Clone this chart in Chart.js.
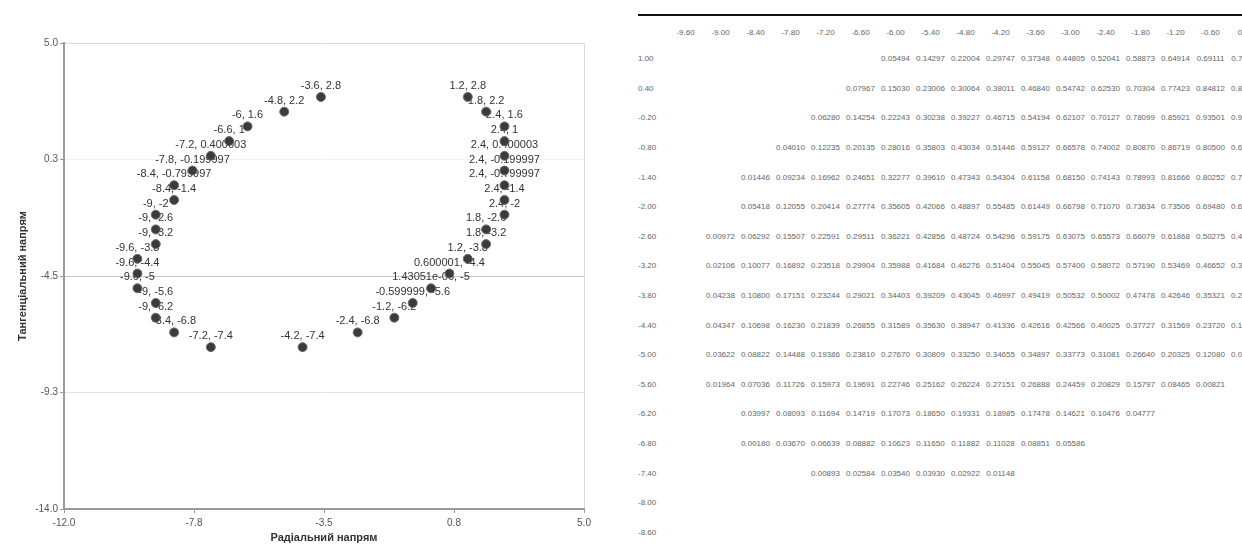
<!DOCTYPE html>
<html>
<head>
<meta charset="utf-8">
<script src="https://cdn.jsdelivr.net/npm/chart.js@4.4.0/dist/chart.umd.min.js"></script>
<style>
body{margin:0;background:#fff;width:1242px;height:551px;overflow:hidden;position:relative;font-family:"Liberation Sans",Arial,sans-serif}
#chartBox{position:absolute;left:0;top:0;width:620px;height:551px}
#tableBox{position:absolute;left:632px;top:0;width:610px;height:551px;overflow:hidden}
#tableBox .rule{position:absolute;left:6px;top:14px;width:700px;height:2px;background:#111}
#grid{position:absolute;left:0;top:20px;width:631px;border-collapse:collapse;table-layout:fixed;font-size:8px;color:#666}
#grid td,#grid th{padding:0;text-align:center;white-space:nowrap;font-weight:normal;overflow:visible}
#grid th{height:24px}
#grid td{height:29.6px}
#grid .rl{text-align:left;padding-left:6px}
</style>
</head>
<body>
<div id="chartBox"><canvas id="myChart" width="620" height="551"></canvas></div>
<div id="tableBox"><div class="rule"></div><table id="grid"></table></div>
<script>
// scatter points (radial, tangential)
var xVals = [-3.6, -4.8, -6, -6.6, -7.2, -7.8, -8.4, -8.4, -9, -9, -9, -9.6, -9.6, -9.6, -9, -9, -8.4, -7.2,
             -4.2, -2.4, -1.2, -0.599999, 1.43051e-06, 0.600001, 1.2, 1.8, 1.8, 2.4, 2.4, 2.4, 2.4, 2.4, 2.4, 2.4, 1.8, 1.2];
var yVals = [2.8, 2.2, 1.6, 1, 0.400003, -0.199997, -0.799997, -1.4, -2, -2.6, -3.2, -3.8, -4.4, -5, -5.6, -6.2, -6.8, -7.4,
             -7.4, -6.8, -6.2, -5.6, -5, -4.4, -3.8, -3.2, -2.6, -2, -1.4, -0.799997, -0.199997, 0.400003, 1, 1.6, 2.2, 2.8];
var xTicks = [-12, -7.75, -3.5, 0.75, 5];
var yTicks = [-14, -9.25, -4.5, 0.25, 5];

// table on the right
var colLabels = ['-9.60','-9.00','-8.40','-7.80','-7.20','-6.60','-6.00','-5.40','-4.80','-4.20','-3.60','-3.00','-2.40','-1.80','-1.20','-0.60','0.00'];
var rowLabels = ['1.00','0.40','-0.20','-0.80','-1.40','-2.00','-2.60','-3.20','-3.80','-4.40','-5.00','-5.60','-6.20','-6.80','-7.40','-8.00','-8.60'];
var tableRows = [
  ['','','','','','','0.05494','0.14297','0.22004','0.29747','0.37348','0.44805','0.52041','0.58873','0.64914','0.69111','0.71180'],
  ['','','','','','0.07967','0.15030','0.23006','0.30064','0.38011','0.46840','0.54742','0.62530','0.70304','0.77423','0.84812','0.89630'],
  ['','','','','0.06280','0.14254','0.22243','0.30238','0.39227','0.46715','0.54194','0.62107','0.70127','0.78099','0.85921','0.93501','0.98770'],
  ['','','','0.04010','0.12235','0.20135','0.28016','0.35803','0.43034','0.51446','0.59127','0.66578','0.74002','0.80870','0.86719','0.80500','0.68140'],
  ['','','0.01446','0.09234','0.16962','0.24651','0.32277','0.39610','0.47343','0.54304','0.61158','0.68150','0.74143','0.78993','0.81666','0.80252','0.72410'],
  ['','','0.05418','0.12055','0.20414','0.27774','0.35605','0.42066','0.48897','0.55485','0.61449','0.66798','0.71070','0.73634','0.73506','0.69480','0.61870'],
  ['','0.00972','0.06292','0.15507','0.22591','0.29511','0.36221','0.42856','0.48724','0.54296','0.59175','0.63075','0.65573','0.66079','0.61868','0.50275','0.44790'],
  ['','0.02106','0.10077','0.16892','0.23518','0.29904','0.35988','0.41684','0.46276','0.51404','0.55045','0.57400','0.58072','0.57190','0.53469','0.46652','0.36840'],
  ['','0.04238','0.10800','0.17151','0.23244','0.29021','0.34403','0.39209','0.43045','0.46997','0.49419','0.50532','0.50002','0.47478','0.42646','0.35321','0.24570'],
  ['','0.04347','0.10698','0.16230','0.21839','0.26855','0.31589','0.35630','0.38947','0.41336','0.42616','0.42566','0.40025','0.37727','0.31569','0.23720','0.13540'],
  ['','0.03622','0.08822','0.14488','0.19386','0.23810','0.27670','0.30809','0.33250','0.34655','0.34897','0.33773','0.31081','0.26640','0.20325','0.12080','0.01520'],
  ['','0.01964','0.07036','0.11726','0.15973','0.19691','0.22746','0.25162','0.26224','0.27151','0.26888','0.24459','0.20829','0.15797','0.08465','0.00821',''],
  ['','','0.03997','0.08093','0.11694','0.14719','0.17073','0.18650','0.19331','0.18985','0.17478','0.14621','0.10476','0.04777','','',''],
  ['','','0.00180','0.03670','0.06639','0.08882','0.10623','0.11650','0.11882','0.11028','0.08851','0.05586','','','','',''],
  ['','','','','0.00893','0.02584','0.03540','0.03930','0.02922','0.01148','','','','','','',''],
  ['','','','','','','','','','','','','','','','',''],
  ['','','','','','','','','','','','','','','','','']
];

// build the table
var html = '<colgroup><col style="width:36px">';
for (var c = 0; c < colLabels.length; c++) html += '<col style="width:35px">';
html += '</colgroup><tr><th></th>';
colLabels.forEach(function(l){ html += '<th>' + l + '</th>'; });
html += '</tr>';
rowLabels.forEach(function(r, i){
    html += '<tr><td class="rl">' + r + '</td>';
    tableRows[i].forEach(function(v){ html += '<td>' + v + '</td>'; });
    html += '</tr>';
});
document.getElementById('grid').innerHTML = html;

// label text like "1.43051e-06"
function fmt(v) {
    if (v !== 0 && Math.abs(v) < 1e-4) {
        return v.toExponential(5).replace(/e([+-])(\d)$/, 'e$10$2');
    }
    return String(v);
}

// draw "x, y" above every point, under the markers
var pointLabels = {
    id: 'pointLabels',
    beforeDatasetsDraw: function(chart) {
        var c = chart.ctx;
        var meta = chart.getDatasetMeta(0);
        c.save();
        c.font = '11px "Liberation Sans"';
        c.fillStyle = '#333';
        c.textAlign = 'center';
        c.textBaseline = 'middle';
        meta.data.forEach(function(pt, i){
            c.fillText(fmt(xVals[i]) + ', ' + fmt(yVals[i]), pt.x, pt.y - 11);
        });
        c.restore();
    }
};

var tickFont = {family: 'Liberation Sans', size: 10};
var titleFont = {family: 'Liberation Sans', size: 11, weight: 'bold'};

var ctx = document.getElementById('myChart').getContext('2d');
var chart = new Chart(ctx, {
    type: 'scatter',
    data: {
        datasets: [{
            data: xVals.map(function(x, i){ return {x: x, y: yVals[i]}; }),
            pointRadius: 4.5,
            pointBackgroundColor: '#3b3b3b',
            pointBorderColor: '#6e6e6e',
            pointBorderWidth: 1
        }]
    },
    options: {
        responsive: false,
        animation: false,
        layout: {padding: {left: 0, top: 43, right: 36, bottom: 0}},
        plugins: {legend: {display: false}, tooltip: {enabled: false}},
        scales: {
            x: {
                type: 'linear', min: -12, max: 5,
                afterBuildTicks: function(s){ s.ticks = xTicks.map(function(v){ return {value: v}; }); },
                afterFit: function(s){ s.height = 42; },
                ticks: {callback: function(v){ return v.toFixed(1); }, color: '#555', font: tickFont, padding: 4, maxRotation: 0, autoSkip: false},
                grid: {
                    color: function(c){ return c.tick && c.tick.value === 5 ? '#dcdcdc' : 'rgba(0,0,0,0)'; },
                    tickColor: '#999', tickLength: 4
                },
                border: {color: '#9a9a9a', width: 2},
                title: {display: true, text: 'Радіальний напрям', color: '#333', font: titleFont, padding: {top: 0, bottom: 6}}
            },
            y: {
                type: 'linear', min: -14, max: 5,
                afterBuildTicks: function(s){ s.ticks = yTicks.map(function(v){ return {value: v}; }); },
                afterFit: function(s){ s.width = 64; },
                ticks: {callback: function(v){ return v.toFixed(1); }, color: '#555', font: tickFont, padding: 2, autoSkip: false},
                grid: {
                    color: function(c){
                        if (!c.tick) return 'rgba(0,0,0,0)';
                        var v = c.tick.value;
                        if (v === -4.5) return '#c4c4c4';
                        if (v === 5) return '#dcdcdc';
                        if (v === -9.25) return '#e2e2e2';
                        if (v === 0.25) return '#f0f0f0';
                        return 'rgba(0,0,0,0)';
                    },
                    tickColor: '#999', tickLength: 4
                },
                border: {color: '#9a9a9a', width: 2},
                title: {display: true, text: 'Тангенціальний напрям', color: '#333', font: titleFont, padding: {top: 16, bottom: 0}}
            }
        }
    },
    plugins: [pointLabels]
});
</script>
</body>
</html>
